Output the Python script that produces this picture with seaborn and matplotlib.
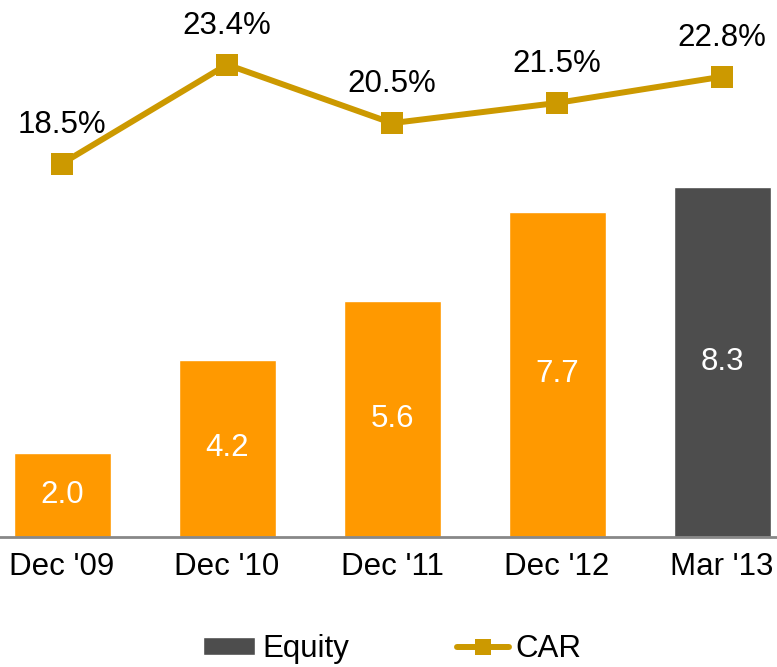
import numpy as np
import pandas as pd
import seaborn as sns
import matplotlib.pyplot as plt
from matplotlib.patches import Patch
from matplotlib.lines import Line2D

# chart data
periods = ["Dec '09", "Dec '10", "Dec '11", "Dec '12", "Mar '13"]
equity = [2.0, 4.2, 5.6, 7.7, 8.3]
car = [18.5, 23.4, 20.5, 21.5, 22.8]
bar_colors = ['#FF9900', '#FF9900', '#FF9900', '#FF9900', '#4D4D4D']
line_color = '#CC9900'

sns.set_style('white')
plt.rcParams['font.family'] = ['Liberation Sans', 'DejaVu Sans']
plt.rcParams['text.color'] = 'black'
plt.rcParams['xtick.color'] = 'black'
FS = 22.5

df = pd.DataFrame({'Period': periods, 'Equity': equity, 'CAR': car})

fig = plt.figure(figsize=(7.77, 6.67), dpi=100)
ax = fig.add_axes([0, 0.195, 1, 0.805])

sns.barplot(data=df, x='Period', y='Equity', hue='Period', palette=bar_colors,
            width=0.588, saturation=1, legend=False, ax=ax)
ax.set_xlim(-0.376, 4.333)
ax.set_ylim(0, 12.72)

# value labels inside bars
for i, v in enumerate(equity):
    ax.text(i, v / 2, f'{v:.1f}', ha='center', va='center', color='white', fontsize=FS)

# secondary axis for CAR line
ax2 = ax.twinx()
sns.lineplot(x=np.arange(len(periods)), y=car, ax=ax2, color=line_color,
             linewidth=4.3, marker='s', markersize=16.5, markeredgewidth=0)
ax2.set_ylim(0, 26.6)
for i, v in enumerate(car):
    ax2.annotate(f'{v}%', (i, v), xytext=(0, 28), textcoords='offset points',
                 ha='center', va='center', fontsize=FS)

for a in (ax, ax2):
    for s in ['top', 'right', 'left']:
        a.spines[s].set_visible(False)
    a.set_yticks([])
    a.set_ylabel('')
ax2.spines['bottom'].set_visible(False)
ax.spines['bottom'].set_color('#888888')
ax.spines['bottom'].set_linewidth(2)
ax.set_xlabel('')
ax.tick_params(axis='x', length=0, labelsize=FS, pad=11)

handles = [Patch(facecolor='#4D4D4D', label='Equity'),
           Line2D([0], [0], color=line_color, linewidth=4.3, marker='s',
                  markersize=11, markeredgewidth=0, label='CAR')]
fig.legend(handles=handles, loc='center', bbox_to_anchor=(0.505, 0.027), ncol=2,
           frameon=False, fontsize=FS, handlelength=1.66, handleheight=0.5,
           handletextpad=0.22, columnspacing=3.45)

fig.savefig('out.png', dpi=100)
